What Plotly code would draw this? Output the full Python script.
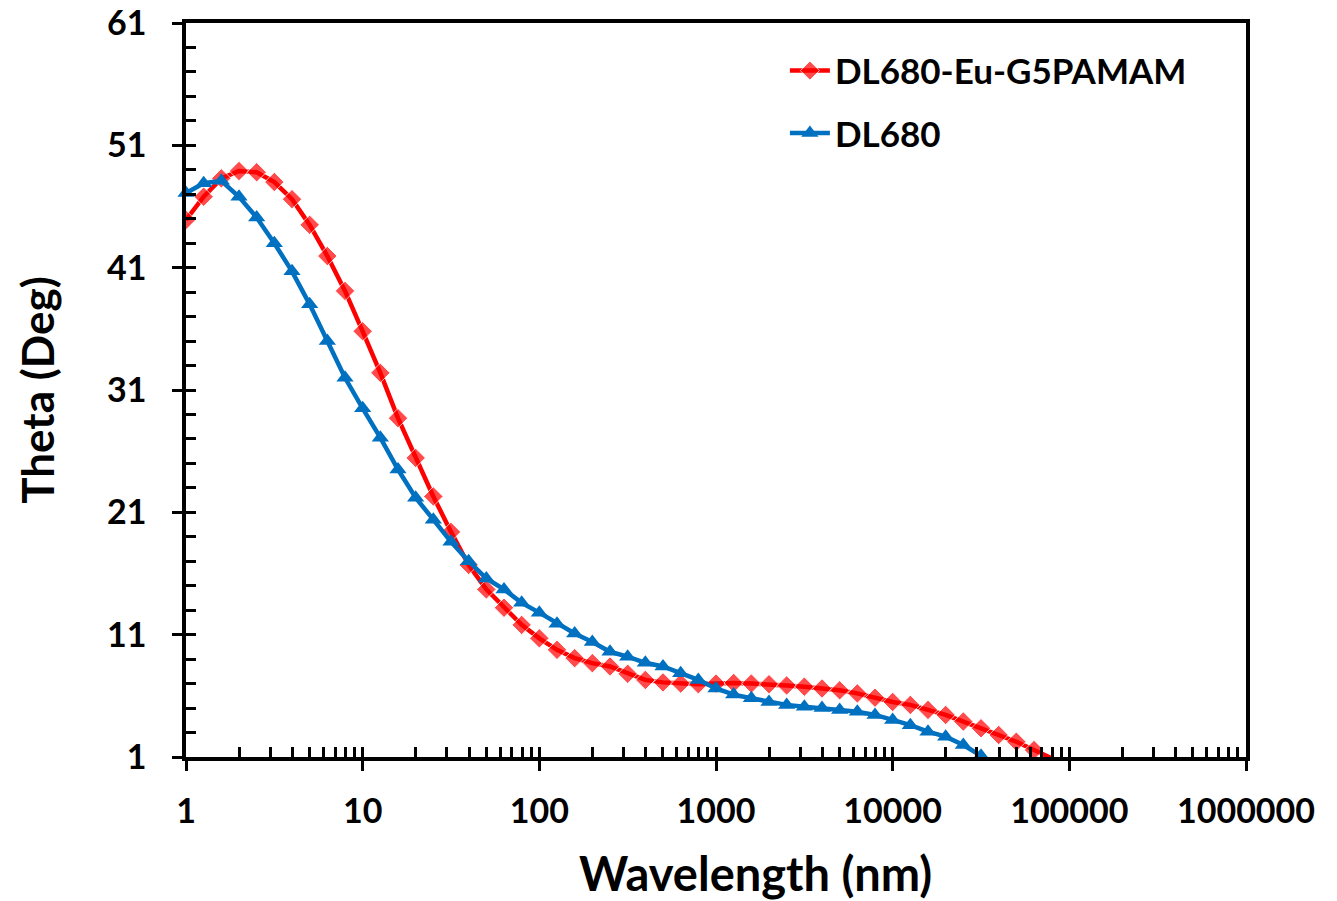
import plotly.graph_objects as go

# x positions: 10 points per decade (log10 step 0.1)
red_k = list(range(0, 50))
red_theta = [44.9, 46.8, 48.3, 48.9, 48.8, 48.0, 46.6, 44.5, 41.95, 39.1,
             35.8, 32.4, 28.7, 25.45, 22.3, 19.4, 16.7, 14.7, 13.2, 11.8,
             10.7, 9.76, 9.08, 8.67, 8.4, 7.8, 7.3, 7.1, 7.0, 6.95,
             7.0, 7.05, 7.0, 6.95, 6.85, 6.75, 6.6, 6.45, 6.2, 5.85,
             5.5, 5.26, 4.85, 4.44, 3.9, 3.35, 2.8, 2.25, 1.57, 0.9]

blue_k = list(range(0, 46))
blue_theta = [47.1, 47.9, 48.1, 46.8, 45.1, 43.0, 40.7, 38.0, 35.0, 32.0,
              29.5, 27.1, 24.5, 22.2, 20.4, 18.6, 17.0, 15.6, 14.7, 13.6,
              12.8, 11.9, 11.1, 10.4, 9.6, 9.2, 8.7, 8.4, 7.85, 7.3,
              6.6, 6.1, 5.8, 5.5, 5.26, 5.1, 5.0, 4.85, 4.7, 4.44,
              4.03, 3.6, 3.07, 2.66, 1.98, 1.1]

red_x = [10 ** (k / 10) for k in red_k]
blue_x = [10 ** (k / 10) for k in blue_k]

x_tickvals = [1, 10, 100, 1000, 10000, 100000, 1000000]
x_ticktext = ["1", "10", "100", "1000", "10000", "100000", "1000000"]
y_tickvals = [1, 11, 21, 31, 41, 51, 61]

RED = "#FF0000"
BLUE = "#0070C0"
FONT = "Lato"

red_sizes = [15] * (len(red_x) - 1) + [0]

fig = go.Figure()
fig.add_trace(go.Scatter(
    x=red_x, y=red_theta, mode="lines+markers", name="DL680-Eu-G5PAMAM",
    line=dict(color=RED, width=4.5),
    marker=dict(symbol="diamond", size=red_sizes, color=RED),
    legendgroup="a",
))
fig.add_trace(go.Scatter(
    x=blue_x, y=blue_theta, mode="lines+markers", name="DL680",
    line=dict(color=BLUE, width=4.5),
    marker=dict(symbol="triangle-up", size=15, color=BLUE),
    cliponaxis=False, legendgroup="b",
))
# dummy trace for the overlay axes (inner half of crossing major ticks)
fig.add_trace(go.Scatter(x=[1], y=[1], xaxis="x2", yaxis="y2", mode="markers",
                         marker=dict(size=0, opacity=0), showlegend=False,
                         hoverinfo="skip"))

x_minor = [m * 10 ** d for d in range(0, 6) for m in range(2, 10)]
y_minor = list(range(3, 61, 2))

axis_common = dict(showgrid=False, zeroline=False, linecolor="black",
                   linewidth=3.5, tickcolor="black", tickwidth=3,
                   automargin=False, ticklabeloverflow="allow")

fig.update_layout(
    width=1337, height=901,
    paper_bgcolor="white", plot_bgcolor="white",
    margin=dict(l=186, r=91, t=23, b=144),
    font=dict(family=FONT, color="black"),
    xaxis=dict(type="log", range=[0, 6], tickmode="array",
               tickvals=x_tickvals, ticktext=x_ticktext,
               ticks="outside", ticklen=10, mirror=True, showline=True,
               ticklabelstandoff=11,
               tickfont=dict(size=34, family=FONT, weight="bold"),
               minor=dict(tickvals=x_minor, ticks="inside", ticklen=10,
                          tickcolor="black", tickwidth=2.5),
               **axis_common),
    yaxis=dict(range=[1, 61], tickmode="array", tickvals=y_tickvals,
               ticks="outside", ticklen=10, mirror=True, showline=True,
               ticklabelstandoff=19,
               tickfont=dict(size=34, family=FONT, weight="bold"),
               title=dict(text="Theta (Deg)", standoff=40,
                          font=dict(size=44, family=FONT, weight="bold")),
               minor=dict(tickvals=y_minor, ticks="inside", ticklen=10,
                          tickcolor="black", tickwidth=2.5),
               **axis_common),
    xaxis2=dict(type="log", range=[0, 6], overlaying="x", anchor="y",
                tickmode="array", tickvals=x_tickvals, ticks="inside",
                ticklen=10, showticklabels=False, showgrid=False,
                zeroline=False, showline=False, tickcolor="black",
                tickwidth=3, automargin=False),
    yaxis2=dict(range=[1, 61], overlaying="y", anchor="x",
                tickmode="array", tickvals=y_tickvals, ticks="inside",
                ticklen=10, showticklabels=False, showgrid=False,
                zeroline=False, showline=False, tickcolor="black",
                tickwidth=3, automargin=False),
    legend=dict(x=0.565, y=0.975, xanchor="left", yanchor="top",
                bgcolor="rgba(0,0,0,0)", tracegroupgap=14,
                font=dict(size=35, family=FONT, weight="bold"),
                itemwidth=40),
    annotations=[dict(text="Wavelength (nm)", xref="paper", yref="paper",
                      x=0.537, y=0, yshift=-116, xanchor="center",
                      yanchor="middle", showarrow=False,
                      font=dict(size=47, family=FONT, weight="bold"))],
    showlegend=True,
)

fig.write_html("out.html",
               config={"displayModeBar": False},
               post_script="document.body.style.margin='0px';"
                           "document.body.style.overflow='hidden';")
